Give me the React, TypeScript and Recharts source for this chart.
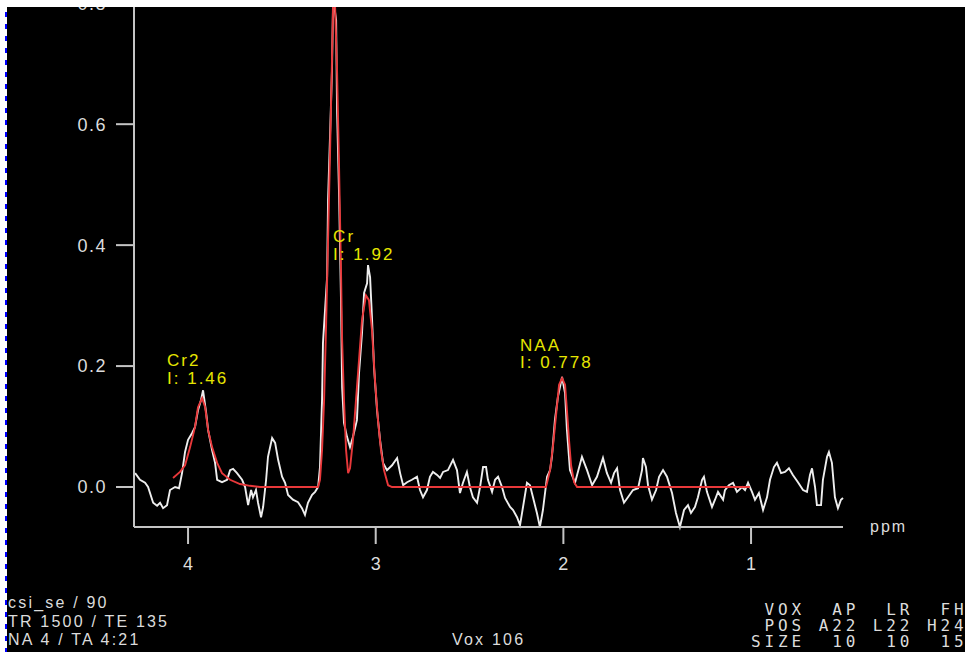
import React from 'react';
import { LineChart, Line, XAxis, YAxis, ReferenceDot } from 'recharts';

// measured spectrum (white trace), chemical shift in ppm
const spectrumPpm = [
  4.282, 4.256, 4.229, 4.213, 4.186, 4.165, 4.149, 4.133, 4.112, 4.096,
  4.069, 4.048, 4.032, 4.016, 4.0, 3.979, 3.963, 3.947, 3.931, 3.92,
  3.904, 3.893, 3.872, 3.856, 3.845, 3.819, 3.792, 3.776, 3.76, 3.739,
  3.712, 3.696, 3.68, 3.664, 3.654, 3.638, 3.627, 3.611, 3.6, 3.584,
  3.574, 3.552, 3.536, 3.52, 3.499, 3.483, 3.467, 3.441, 3.414, 3.393,
  3.377, 3.361, 3.339, 3.323, 3.307, 3.297, 3.286, 3.281, 3.259, 3.254,
  3.243, 3.233, 3.227, 3.211, 3.206, 3.195, 3.185, 3.179, 3.169, 3.153,
  3.137, 3.121, 3.1, 3.089, 3.073, 3.062, 3.046, 3.041, 3.03, 3.02,
  3.009, 2.993, 2.977, 2.961, 2.94, 2.913, 2.886, 2.87, 2.854, 2.833,
  2.807, 2.78, 2.764, 2.748, 2.727, 2.711, 2.695, 2.673, 2.657, 2.641,
  2.615, 2.588, 2.567, 2.551, 2.535, 2.514, 2.498, 2.482, 2.46, 2.444,
  2.428, 2.412, 2.402, 2.38, 2.364, 2.348, 2.327, 2.311, 2.284, 2.268,
  2.247, 2.231, 2.215, 2.194, 2.178, 2.162, 2.141, 2.125, 2.109, 2.087,
  2.071, 2.061, 2.045, 2.029, 2.007, 1.991, 1.981, 1.965, 1.938, 1.901,
  1.874, 1.847, 1.821, 1.789, 1.768, 1.746, 1.73, 1.714, 1.698, 1.677,
  1.656, 1.629, 1.602, 1.581, 1.576, 1.56, 1.549, 1.528, 1.506, 1.49,
  1.469, 1.448, 1.421, 1.4, 1.379, 1.357, 1.336, 1.32, 1.299, 1.283,
  1.261, 1.251, 1.235, 1.208, 1.192, 1.176, 1.149, 1.139, 1.118, 1.096,
  1.075, 1.048, 1.032, 1.016, 0.995, 0.979, 0.958, 0.936, 0.915, 0.899,
  0.878, 0.862, 0.84, 0.819, 0.798, 0.777, 0.75, 0.723, 0.702, 0.686,
  0.675, 0.659, 0.649, 0.627, 0.617, 0.595, 0.585, 0.569, 0.553, 0.537,
  0.521, 0.51,
];
const spectrumVal = [
  0.023, 0.012, 0.007, 0, -0.026, -0.031, -0.026, -0.035, -0.03, -0.005,
  0, -0.002, 0.023, 0.058, 0.078, 0.089, 0.099, 0.127, 0.144, 0.16,
  0.124, 0.094, 0.061, 0.04, 0.012, 0.008, 0.012, 0.028, 0.03, 0.023,
  0.012, 0, -0.03, -0.005, -0.017, -0.005, -0.026, -0.05, -0.033, 0.012,
  0.05, 0.081, 0.073, 0.045, 0.017, 0.007, -0.013, -0.021, -0.025, -0.035,
  -0.046, -0.026, -0.013, -0.008, 0, 0.033, 0.144, 0.238, 0.347, 0.474,
  0.585, 0.689, 0.81, 0.772, 0.623, 0.479, 0.309, 0.165, 0.106, 0.083,
  0.066, 0.083, 0.111, 0.188, 0.255, 0.321, 0.337, 0.367, 0.347, 0.281,
  0.198, 0.127, 0.078, 0.04, 0.028, 0.036, 0.048, 0.023, 0.003, 0.008,
  0.012, 0.017, -0.005, -0.017, -0.005, 0.017, 0.025, 0.02, 0.015, 0.025,
  0.028, 0.045, 0.028, -0.01, 0.007, 0.025, 0, -0.017, -0.026, 0,
  0.033, 0.033, 0.012, -0.008, 0.012, 0.017, 0, -0.018, -0.033, -0.038,
  -0.05, -0.063, -0.033, 0.007, 0.003, -0.017, -0.043, -0.066, -0.038, 0.017,
  0.028, 0.05, 0.111, 0.149, 0.182, 0.155, 0.094, 0.028, 0.007, 0.05,
  0.028, 0.003, 0.017, 0.048, 0.023, 0.007, 0.023, 0.031, -0.005, -0.026,
  -0.017, -0.005, -0.002, 0.028, 0.048, 0.033, 0.003, -0.021, -0.005, 0.017,
  0.028, 0.017, -0.01, -0.043, -0.066, -0.038, -0.03, -0.043, -0.033, -0.017,
  0.012, 0.017, -0.008, -0.033, -0.021, -0.008, -0.021, -0.005, 0.003, 0.007,
  -0.008, 0, -0.005, 0.007, -0.008, -0.021, -0.01, -0.038, -0.017, 0.012,
  0.033, 0.04, 0.023, 0.025, 0.031, 0.02, 0.008, -0.005, -0.008, 0.02,
  0.031, 0, -0.03, -0.03, 0.012, 0.05, 0.058, 0.04, -0.017, -0.035,
  -0.021, -0.018,
];

// fitted model (red trace)
const fitPpm = [
  4.08, 4.043, 4.016, 3.989, 3.963, 3.947, 3.925, 3.909, 3.893, 3.872,
  3.845, 3.819, 3.776, 3.723, 3.67, 3.616, 3.307, 3.297, 3.286, 3.275,
  3.265, 3.254, 3.243, 3.233, 3.227, 3.217, 3.206, 3.195, 3.185, 3.179,
  3.169, 3.158, 3.147, 3.137, 3.121, 3.105, 3.089, 3.073, 3.052, 3.036,
  3.02, 3.004, 2.988, 2.972, 2.956, 2.934, 2.913, 2.093, 2.087, 2.071,
  2.055, 2.039, 2.023, 2.007, 1.991, 1.981, 1.97, 1.959, 1.943, 1.927,
  1.006,
];
const fitVal = [
  0.015, 0.025, 0.036, 0.066, 0.099, 0.132, 0.147, 0.132, 0.094, 0.066,
  0.04, 0.023, 0.012, 0.005, 0.002, 0, 0, 0.012, 0.061, 0.144,
  0.26, 0.408, 0.557, 0.706, 0.8, 0.8, 0.689, 0.524, 0.359, 0.243,
  0.144, 0.061, 0.023, 0.031, 0.078, 0.144, 0.21, 0.276, 0.317, 0.309,
  0.26, 0.177, 0.111, 0.061, 0.028, 0.003, 0, 0, 0.007, 0.028,
  0.069, 0.119, 0.169, 0.18, 0.169, 0.127, 0.078, 0.036, 0.008, 0,
  0,
];

// peak annotations, anchored at the label's first baseline
const peakNames = ['Cr2', 'Cr', 'NAA'];
const peakIntegrals = ['1.46', '1.92', '0.778'];
const peakLabelPpm = [4.112, 3.227, 2.231];
const peakLabelVal = [0.2, 0.405, 0.225];

const xTicks = [1, 2, 3, 4];
const yTicks = [0, 0.2, 0.4, 0.6, 0.8];

const protocolLines = ['csi_se / 90', 'TR 1500 / TE 135', 'NA 4 / TA 4:21'];
const voxelName = 'Vox 106';
const voxelRows = [' VOX  AP  LR  FH', ' POS A22 L22 H24', 'SIZE  10  10  15'];

const spectrum = spectrumPpm.map((ppm, i) => ({ ppm, v: spectrumVal[i] }));
const fit = fitPpm.map((ppm, i) => ({ ppm, v: fitVal[i] }));

const AXIS = '#c4c4c4';
const TEXT = '#dcdcdc';
const YELLOW = '#e6e600';

const PeakLabel = ({ viewBox, name, integral }: any) => {
  const { x, y } = viewBox;
  return (
    <text x={x} y={y} fill={YELLOW} fontSize={17} letterSpacing={2} fontFamily="Arial, sans-serif">
      <tspan x={x}>{name}</tspan>
      <tspan x={x} dy={17.5}>{`I: ${integral}`}</tspan>
    </text>
  );
};

const App: React.FC = () => {
  return (
    <div style={{ position: 'absolute', left: 0, top: 0, width: 965, height: 652, background: '#fff', overflow: 'hidden' }}>
      <div
        style={{
          position: 'absolute',
          left: 5,
          top: 7,
          width: 2,
          height: 645,
          background: 'repeating-linear-gradient(to bottom, transparent 0px, transparent 5px, #0000ff 5px, #0000ff 10px, transparent 10px, transparent 12px)',
        }}
      />
      <div style={{ position: 'absolute', left: 7, top: 7, width: 958, height: 645, background: '#000', overflow: 'hidden' }}>
        <div style={{ position: 'absolute', left: 0, top: -34 }}>
          <LineChart width={958} height={614} margin={{ top: 0, right: 122, bottom: 0, left: 0 }}>
            <XAxis
              type="number"
              dataKey="ppm"
              domain={[0.51, 4.288]}
              reversed
              ticks={xTicks}
              tickSize={17}
              tickMargin={13}
              height={60}
              stroke={AXIS}
              strokeWidth={2}
              tick={{ fill: TEXT, fontSize: 18, fontFamily: 'Arial, sans-serif' }}
            />
            <YAxis
              type="number"
              domain={[-0.0661, 0.85]}
              ticks={yTicks}
              width={127}
              tickSize={18}
              tickMargin={9}
              stroke={AXIS}
              strokeWidth={2}
              tickFormatter={(v: number) => v.toFixed(1)}
              tick={{ fill: TEXT, fontSize: 18, fontFamily: 'Arial, sans-serif', letterSpacing: 1.5 }}
            />
            <Line data={spectrum} dataKey="v" type="linear" stroke="#eeeeee" strokeWidth={1.9} dot={false} isAnimationActive={false} />
            <Line data={fit} dataKey="v" type="linear" stroke="#e8383a" strokeWidth={1.9} dot={false} isAnimationActive={false} />
            {peakNames.map((name, i) => (
              <ReferenceDot
                key={name}
                x={peakLabelPpm[i]}
                y={peakLabelVal[i]}
                r={0}
                stroke="none"
                fill="none"
                label={<PeakLabel name={name} integral={peakIntegrals[i]} />}
              />
            ))}
          </LineChart>
        </div>
        <div style={{ position: 'absolute', left: 863, top: 511, color: TEXT, fontSize: 16, letterSpacing: 2, fontFamily: 'Arial, sans-serif' }}>
          ppm
        </div>
        <div style={{ position: 'absolute', left: 1, top: 587, color: TEXT, fontSize: 16, lineHeight: '18.5px', letterSpacing: 2.2, fontFamily: 'Arial, sans-serif', whiteSpace: 'pre' }}>
          {protocolLines.map((l) => (
            <div key={l}>{l}</div>
          ))}
        </div>
        <div style={{ position: 'absolute', left: 445, top: 624, color: TEXT, fontSize: 16, lineHeight: '18.5px', letterSpacing: 2.2, fontFamily: 'Arial, sans-serif' }}>
          {voxelName}
        </div>
        <div style={{ position: 'absolute', left: 744, top: 595, color: TEXT, fontSize: 16, lineHeight: '16px', letterSpacing: 3.9, fontFamily: '"DejaVu Sans Mono", monospace', whiteSpace: 'pre' }}>
          {voxelRows.map((r) => (
            <div key={r}>{r}</div>
          ))}
        </div>
      </div>
    </div>
  );
};

export default App;
